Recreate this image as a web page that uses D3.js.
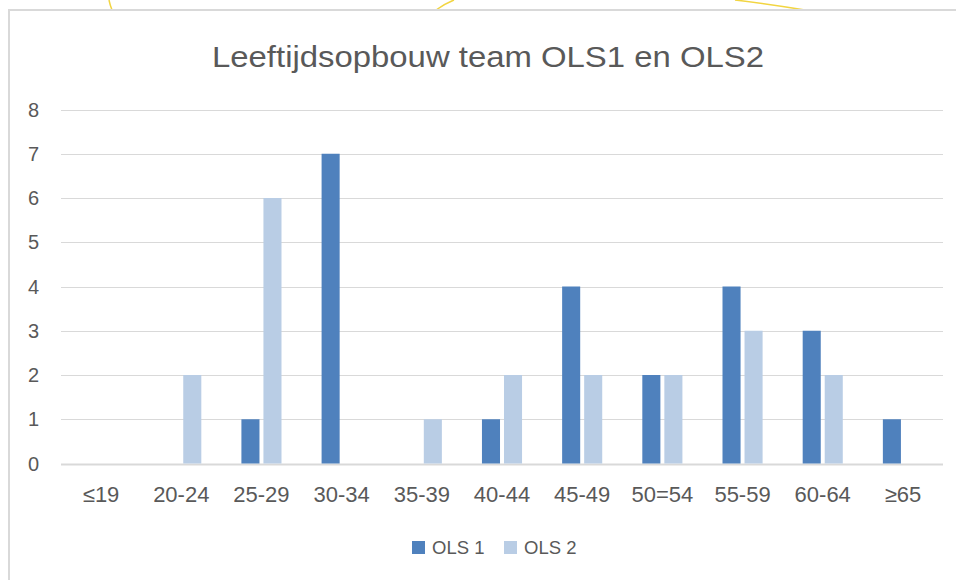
<!DOCTYPE html>
<html>
<head>
<meta charset="utf-8">
<script src="https://cdn.jsdelivr.net/npm/d3@7"></script>
<style>
  body { margin: 0; background: #fff; }
  text { font-family: "Liberation Sans", Arial, sans-serif; fill: #595959; }
</style>
</head>
<body>
<svg id="chart" width="956" height="580"></svg>
<script>
// age groups and head counts per team
const categories = ["≤19", "20-24", "25-29", "30-34", "35-39", "40-44", "45-49", "50=54", "55-59", "60-64", "≥65"];
const seriesNames = ["OLS 1", "OLS 2"];
const ols1 = [0, 0, 1, 7, 0, 1, 4, 2, 4, 3, 1];
const ols2 = [0, 2, 6, 0, 1, 2, 2, 2, 3, 2, 0];
const yTicks = [0, 1, 2, 3, 4, 5, 6, 7, 8];
const colors = ["#4f81bd", "#b9cde5"];

const svg = d3.select("#chart");

// faint yellow curves of the page behind the chart
const bg = svg.append("g").attr("fill", "none").attr("stroke", "#f2d541").attr("stroke-width", 1.5);
bg.append("path").attr("d", "M109,0 Q110,5 112,10");
bg.append("path").attr("d", "M454,0 Q444,4 436,10");
bg.append("path").attr("d", "M735,0 Q770,4 805,10");

// chart frame
svg.append("rect")
    .attr("x", 9).attr("y", 10)
    .attr("width", 960).attr("height", 590)
    .attr("fill", "#fff")
    .attr("stroke", "#d9d9d9").attr("stroke-width", 2);

const plot = { left: 61, right: 943, top: 109.5, bottom: 463.5 };

// scales
const x0 = d3.scaleBand().domain(categories).range([plot.left, plot.right])
    .paddingInner(0.5).paddingOuter(0.25);
const x1 = d3.scaleBand().domain(seriesNames).range([0, x0.bandwidth()])
    .paddingInner(0.18);
const y = d3.scaleLinear().domain([0, 8]).range([plot.bottom, plot.top]);

// gridlines
svg.append("g").selectAll("line")
    .data(yTicks)
    .join("line")
    .attr("x1", plot.left).attr("x2", plot.right)
    .attr("y1", d => Math.round(y(d)) + 0.5).attr("y2", d => Math.round(y(d)) + 0.5)
    .attr("stroke", "#d9d9d9")
    .attr("stroke-width", d => d === 0 ? 2 : 1);

// y axis labels
svg.append("g").selectAll("text")
    .data(yTicks)
    .join("text")
    .attr("x", 39).attr("y", d => y(d))
    .attr("dy", "0.36em")
    .attr("text-anchor", "end")
    .attr("font-size", 20)
    .text(d => d);

// bars
const rows = categories.map((c, i) => ({ cat: c, values: [ols1[i], ols2[i]] }));
svg.append("g").selectAll("g")
    .data(rows)
    .join("g")
    .attr("transform", d => `translate(${x0(d.cat)},0)`)
    .selectAll("rect")
    .data(d => d.values.map((v, k) => ({ name: seriesNames[k], value: v, k })))
    .join("rect")
    .attr("x", d => x1(d.name))
    .attr("width", x1.bandwidth())
    .attr("y", d => y(d.value))
    .attr("height", d => y(0) - y(d.value))
    .attr("fill", d => colors[d.k]);

// x axis labels
svg.append("g").selectAll("text")
    .data(categories)
    .join("text")
    .attr("x", d => x0(d) + x0.bandwidth() / 2)
    .attr("y", 502)
    .attr("text-anchor", "middle")
    .attr("font-size", 22)
    .text(d => d);

// title
svg.append("text")
    .attr("x", 488).attr("y", 67)
    .attr("text-anchor", "middle")
    .attr("font-size", 30)
    .attr("textLength", 552)
    .attr("lengthAdjust", "spacingAndGlyphs")
    .text("Leeftijdsopbouw team OLS1 en OLS2");

// legend
const legendX = [412, 504];
const legend = svg.append("g").selectAll("g")
    .data(seriesNames)
    .join("g")
    .attr("transform", (d, i) => `translate(${legendX[i]},541)`);
legend.append("rect")
    .attr("width", 13).attr("height", 13)
    .attr("fill", (d, i) => colors[i]);
legend.append("text")
    .attr("x", 20).attr("y", 6.5)
    .attr("dy", "0.36em")
    .attr("font-size", 18.5)
    .text(d => d);
</script>
</body>
</html>
